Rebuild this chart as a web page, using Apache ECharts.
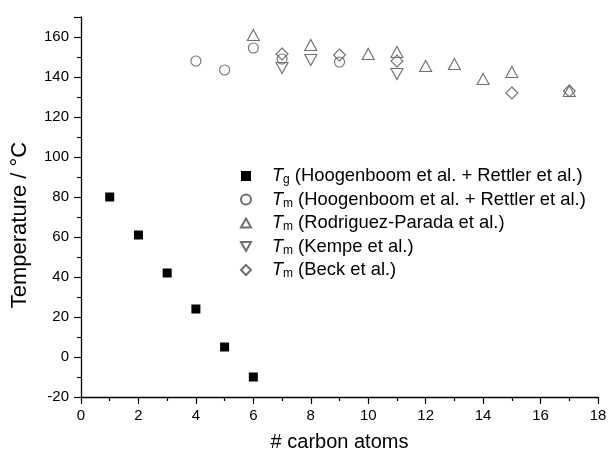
<!DOCTYPE html>
<html>
<head>
<meta charset="utf-8">
<script src="https://cdn.jsdelivr.net/npm/echarts@6/dist/echarts.min.js"></script>
<style>
  html, body { margin: 0; padding: 0; background: #fff; }
  #chart { width: 610px; height: 458px; }
</style>
</head>
<body>
<div id="chart"></div>
<script>
// T_g, Hoogenboom + Rettler
const tgCarbons = [1, 2, 3, 4, 5, 6]
const tgValues = [80, 61, 42, 24, 5, -10]

// T_m, Hoogenboom + Rettler
const tmHoogCarbons = [4, 5, 6, 7, 9]
const tmHoogValues = [148, 143.5, 154.5, 149, 147.5]

// T_m, Rodriguez-Parada
const tmRodCarbons = [6, 8, 10, 11, 12, 13, 14, 15, 17]
const tmRodValues = [161, 156, 151.5, 152.5, 145.5, 146.5, 139, 142.5, 133]

// T_m, Kempe
const tmKempeCarbons = [7, 8, 11]
const tmKempeValues = [144.5, 148.5, 141.5]

// T_m, Beck
const tmBeckCarbons = [7, 9, 11, 15, 17]
const tmBeckValues = [151.5, 151, 148, 132, 133]

const legendNames = ['tg', 'tmHoog', 'tmRod', 'tmKempe', 'tmBeck']
const legendLabels = {
  tg: ['g', 'Hoogenboom et al. + Rettler et al.'],
  tmHoog: ['m', 'Hoogenboom et al. + Rettler et al.'],
  tmRod: ['m', 'Rodriguez-Parada et al.'],
  tmKempe: ['m', 'Kempe et al.'],
  tmBeck: ['m', 'Beck et al.']
}

function pairs(xs, ys) {
  return xs.map((x, i) => [x, ys[i]])
}

const openStyle = {
  color: 'transparent',
  borderColor: '#707070',
  borderWidth: 1.1,
  opacity: 1
}

const chart = echarts.init(document.getElementById('chart'))

chart.setOption({
  animation: false,
  backgroundColor: '#fff',
  textStyle: {
    fontFamily: 'Liberation Sans, Arial, sans-serif'
  },
  grid: {
    left: 81,
    right: 12,
    top: 17,
    bottom: 61
  },
  legend: {
    orient: 'vertical',
    left: 235,
    top: 162,
    itemGap: 4.5,
    itemWidth: 10,
    itemHeight: 10,
    data: legendNames,
    formatter(name) {
      const l = legendLabels[name]
      return '{t|T}{s|' + l[0] + '}{n| (' + l[1] + ')}'
    },
    textStyle: {
      color: '#000',
      fontSize: 18,
      padding: [0, 0, 0, 16],
      rich: {
        t: { fontSize: 18, lineHeight: 22, fontStyle: 'italic', color: '#000' },
        s: { fontSize: 12, color: '#000', padding: [8, 0, 0, 0] },
        n: { fontSize: 18.4, lineHeight: 22, color: '#000' }
      }
    }
  },
  xAxis: {
    type: 'value',
    min: 0,
    max: 18,
    interval: 2,
    name: '# carbon atoms',
    nameLocation: 'middle',
    nameGap: 35,
    nameTextStyle: { fontSize: 20, color: '#000' },
    axisLine: { onZero: false, lineStyle: { color: '#000', width: 1.3 } },
    axisTick: { length: 7, lineStyle: { color: '#000', width: 1.2 } },
    minorTick: { show: true, splitNumber: 2, length: 4, lineStyle: { color: '#000', width: 1.2 } },
    axisLabel: { fontSize: 15, color: '#000', margin: 11 },
    splitLine: { show: false }
  },
  yAxis: {
    type: 'value',
    min: -20,
    max: 170,
    interval: 20,
    name: 'Temperature / °C',
    nameLocation: 'middle',
    nameGap: 50,
    nameTextStyle: { fontSize: 22, color: '#000', padding: [0, 36, 0, 0] },
    axisLine: { show: true, onZero: false, lineStyle: { color: '#000', width: 1.3 } },
    axisTick: { show: true, length: 7, lineStyle: { color: '#000', width: 1.2 } },
    minorTick: { show: true, splitNumber: 2, length: 4, lineStyle: { color: '#000', width: 1.2 } },
    axisLabel: { fontSize: 15, color: '#000', margin: 12, showMaxLabel: false },
    splitLine: { show: false }
  },
  series: [
    {
      name: 'tg',
      type: 'scatter',
      symbol: 'rect',
      symbolSize: 9,
      data: pairs(tgCarbons, tgValues),
      itemStyle: { color: '#000', opacity: 1 }
    },
    {
      name: 'tmHoog',
      type: 'scatter',
      symbol: 'circle',
      symbolSize: 10,
      data: pairs(tmHoogCarbons, tmHoogValues),
      itemStyle: openStyle
    },
    {
      name: 'tmRod',
      type: 'scatter',
      symbol: 'path://M5,0 L10,9 L0,9 Z',
      symbolSize: [12, 11],
      data: pairs(tmRodCarbons, tmRodValues),
      itemStyle: openStyle
    },
    {
      name: 'tmKempe',
      type: 'scatter',
      symbol: 'path://M0,0 L10,0 L5,9 Z',
      symbolSize: [12, 11],
      data: pairs(tmKempeCarbons, tmKempeValues),
      itemStyle: openStyle
    },
    {
      name: 'tmBeck',
      type: 'scatter',
      symbol: 'diamond',
      symbolSize: 12,
      data: pairs(tmBeckCarbons, tmBeckValues),
      itemStyle: openStyle
    }
  ]
})
</script>
</body>
</html>
